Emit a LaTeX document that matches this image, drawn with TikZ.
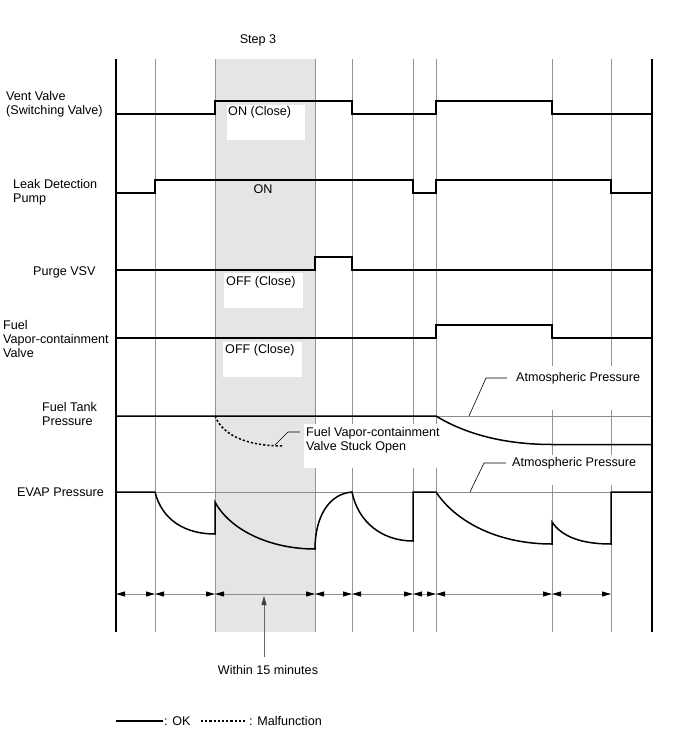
\documentclass[tikz,border=0pt]{standalone}
\usepackage{fontspec}
\setmainfont{Liberation Sans}
\usetikzlibrary{arrows.meta}
\begin{document}
\begin{tikzpicture}[x=1pt,y=-1pt,
  sig/.style={line width=1.5pt, line join=miter},
  gridline/.style={draw=black!42, line width=0.8pt},
  refline/.style={draw=black!45, line width=0.6pt},
  lbl/.style={font=\fontsize{12.6}{14}\selectfont, inner sep=0pt, anchor=west, align=left},
  ctr/.style={font=\fontsize{12.6}{14}\selectfont, inner sep=0pt},
  leader/.style={draw=black, line width=0.6pt},
  dotline/.style={line width=1.5pt, dash pattern=on 2.2pt off 2pt},
  dimline/.style={draw=black!45, line width=0.8pt,
    {Triangle[length=9pt,width=5pt,color=black]}-{Triangle[length=9pt,width=5pt,color=black]}}]
\useasboundingbox (0,0) rectangle (688,755);
% shaded step 3 band
\fill[black!10] (215,59) rectangle (315,632);
% grid lines
\foreach \x in {155,215,315,352,413,436,552,611}
  \draw[gridline] (\x,59) -- (\x,632);
% reference lines (atmospheric pressure)
\draw[refline] (116,416) -- (652,416);
\draw[refline] (116,492) -- (652,492);
% white boxes behind texts
\fill[white] (227,105) rectangle (305,140);
\fill[white] (224,273) rectangle (303,308);
\fill[white] (223,342) rectangle (302,377);
\fill[white] (304,424) rectangle (446,468);
\fill[white] (500,366) rectangle (648,410);
\fill[white] (500,455) rectangle (648,485);
% axes
\draw[line width=1.3pt] (116,59) -- (116,632);
\draw[line width=1.3pt] (652,59) -- (652,632);
% signals
\draw[sig] (116,114) -- (215,114) -- (215,101) -- (352,101) -- (352,114) -- (436,114) -- (436,101) -- (552,101) -- (552,114) -- (652,114);
\draw[sig] (116,193) -- (155,193) -- (155,180) -- (413,180) -- (413,193) -- (436,193) -- (436,180) -- (611,180) -- (611,193) -- (652,193);
\draw[sig] (116,270) -- (315,270) -- (315,257) -- (352,257) -- (352,270) -- (652,270);
\draw[sig] (116,338) -- (436,338) -- (436,325) -- (552,325) -- (552,338) -- (652,338);
% fuel tank pressure
\draw[sig] (116,416) -- (436,416) .. controls (462,432) and (500,444.5) .. (552,444.5) -- (652,444.5);
\draw[dotline] (215,416) .. controls (224,438) and (252,446) .. (283,446);
% EVAP pressure
\draw[sig] (116,492) -- (155,492) .. controls (162,520) and (185,534) .. (215,534) -- (215,502)
  .. controls (230,530) and (270,549) .. (315,549)
  .. controls (315,518) and (328,494) .. (352,492)
  .. controls (358,522) and (382,541) .. (413,541) -- (413,492) -- (436,492)
  .. controls (456,522) and (498,544) .. (552,544) -- (552,522)
  .. controls (562,537) and (582,544) .. (611,544) -- (611,492) -- (652,492);
% dimension arrows
\foreach \a/\b in {116/155,155/215,215/315,315/352,352/413,413/436,436/552,552/611}
  \draw[dimline] (\a,594) -- (\b,594);
\coordinate (wstart) at (264,657);
\coordinate (wend) at (264,596);
\draw[draw=black!60, line width=1pt, -{Triangle[length=9pt,width=5pt,color=black!75]}] (wstart) -- (wend);
% labels
\node[ctr] (step) at (258,40) {Step 3};
\node[lbl] (vv) at (6,104) {Vent Valve\\(Switching Valve)};
\node[lbl] (ldp) at (13,192) {Leak Detection\\Pump};
\node[lbl] (pv) at (33,272) {Purge VSV};
\node[lbl] (fvv) at (3,339) {Fuel\\Vapor-containment\\Valve};
\node[lbl] (ftp) at (42,414) {Fuel Tank\\Pressure};
\node[lbl] (evap) at (17,492) {EVAP Pressure};
\node[lbl] (onc) at (228,112) {ON (Close)};
\node[ctr] (on) at (263,189) {ON};
\node[lbl] (offc1) at (226,282) {OFF (Close)};
\node[lbl] (offc2) at (225,350) {OFF (Close)};
\node[lbl] (stuck) at (306,440) {Fuel Vapor-containment\\Valve Stuck Open};
\node[lbl] (atm1) at (516,378) {Atmospheric Pressure};
\node[lbl] (atm2) at (512,463) {Atmospheric Pressure};
\node[ctr] (within) at (268,670) {Within 15 minutes};
% leaders
\coordinate (s0) at (275,445);
\draw[leader] (s0) -- (288,432) -- ([xshift=-6pt]stuck.west |- 0,432);
\coordinate (a1) at (469,416);
\draw[leader] (a1) -- (486,378) -- ([xshift=-9pt]atm1.west);
\coordinate (a2) at (470,492);
\draw[leader] (a2) -- (484,463) -- ([xshift=-6pt]atm2.west);
% legend
\coordinate (l1) at (116,721);
\coordinate (l2) at (163,721);
\coordinate (l3) at (201,721);
\coordinate (l4) at (247,721);
\draw[line width=1.5pt] (l1) -- (l2);
\node[lbl] (ok) at (164,721) {: OK};
\draw[dotline] (l3) -- (l4);
\node[lbl] (mal) at (249,721) {: Malfunction};
\end{tikzpicture}
\end{document}
